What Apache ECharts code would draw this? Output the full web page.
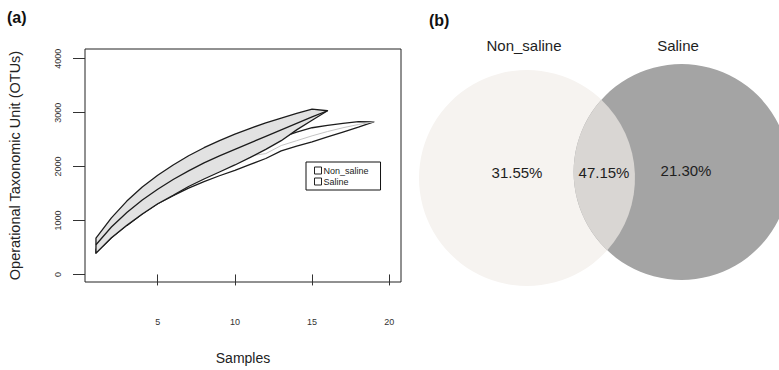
<!DOCTYPE html>
<html><head><meta charset="utf-8">
<script src="https://cdn.jsdelivr.net/npm/echarts@6/dist/echarts.min.js"></script>
<style>html,body{margin:0;padding:0;background:#fff}#c{width:779px;height:370px}</style>
</head><body><div id="c"></div>
<script>
// ---- Panel (a): rarefaction curves ----
const samplesNonSaline = [1,2,3,4,5,6,7,8,9,10,11,12,13,14,15,16];
const nonSalineUpper = [675,1050,1360,1620,1840,2030,2200,2350,2480,2600,2710,2810,2900,2985,3065,3035];
const nonSalineMean  = [550,880,1150,1380,1580,1760,1920,2070,2200,2320,2440,2560,2680,2800,2920,3035];
const nonSalineLower = [395,680,910,1120,1310,1465,1630,1770,1900,2030,2170,2320,2480,2680,2860,3035];

const samplesSaline = [1,2,3,4,5,6,7,8,9,10,11,12,13,14,15,16,17,18,19];
const salineUpper = [470,760,1000,1210,1400,1560,1720,1860,1990,2110,2240,2390,2540,2640,2720,2765,2800,2835,2830];
const salineMean  = [470,800,1060,1280,1470,1630,1780,1910,2030,2130,2200,2240,2390,2480,2570,2650,2720,2780,2830];
const salineLower = [395,680,910,1120,1310,1460,1600,1720,1830,1930,2040,2150,2290,2380,2460,2550,2640,2730,2830];

const xTicks = [5,10,15,20];
const yTicks = [0,1000,2000,3000,4000];

// ---- Panel (b): Venn diagram ----
const vennSetNames = ['Non_saline','Saline'];
const vennShares = ['31.55%','47.15%','21.30%']; // only Non_saline, shared, only Saline

const FONT = '"Liberation Sans", Arial, Helvetica, sans-serif';
const chart = echarts.init(document.getElementById('c'), null, {renderer:'svg'});

function bandRender(xs, up, mean, lo, fill, meanColor){
  return function(params, api){
    const pts = [];
    for (let i=0;i<xs.length;i++) pts.push(api.coord([xs[i], up[i]]));
    for (let i=xs.length-1;i>=0;i--) pts.push(api.coord([xs[i], lo[i]]));
    const mp = xs.map((x,i)=>api.coord([x, mean[i]]));
    return {type:'group', children:[
      {type:'polygon', shape:{points:pts}, style:{fill:fill, stroke:'#1c1c1c', lineWidth:1.3, lineJoin:'round'}},
      {type:'polyline', shape:{points:mp}, style:{fill:null, stroke:meanColor, lineWidth:meanColor==='#1c1c1c'?1.3:1}}
    ]};
  };
}

function vennRender(params, api){
  const c1 = [527, 178], c2 = [681.6, 172], r = 108;
  const dx = c2[0]-c1[0], dy = c2[1]-c1[1];
  const d = Math.sqrt(dx*dx+dy*dy);
  const a = d/2, h = Math.sqrt(r*r - a*a);
  const mx = c1[0]+dx/2, my = c1[1]+dy/2;
  const px = -dy/d, py = dx/d;
  const p1 = [mx + h*px, my + h*py];
  const p2 = [mx - h*px, my - h*py];
  const top = p1[1] < p2[1] ? p1 : p2, bot = p1[1] < p2[1] ? p2 : p1;
  const lens = 'M'+top[0]+' '+top[1]+' A'+r+' '+r+' 0 0 0 '+bot[0]+' '+bot[1]+' A'+r+' '+r+' 0 0 0 '+top[0]+' '+top[1]+' Z';
  const txt = (x,y,s)=>({type:'text', x:x, y:y, style:{text:s, fontSize:15, fontFamily:FONT, fill:'#1e1e1e', textAlign:'center', textVerticalAlign:'middle'}});
  return {type:'group', children:[
    {type:'circle', shape:{cx:c1[0], cy:c1[1], r:r}, style:{fill:'#f6f3f0'}},
    {type:'circle', shape:{cx:c2[0], cy:c2[1], r:r}, style:{fill:'#a4a4a4'}},
    {type:'path', shape:{pathData:lens}, style:{fill:'#d9d6d3'}},
    txt(517,172,vennShares[0]), txt(604,172,vennShares[1]), txt(686,170,vennShares[2]),
    txt(524,45,vennSetNames[0]), txt(678,45,vennSetNames[1])
  ]};
}

const option = {
  backgroundColor:'#fff',
  animation:false,
  textStyle:{fontFamily:FONT},
  grid:{left:85, top:49, width:316, height:235, show:true, borderColor:'#222', borderWidth:1, backgroundColor:'transparent', containLabel:false},
  xAxis:{type:'value', min:0.29, max:20.76, splitLine:{show:false}, axisLine:{show:false},
    axisTick:{show:true, length:11, lineStyle:{color:'#333', width:1}, customValues:xTicks},
    axisLabel:{customValues:xTicks, margin:35, fontSize:9, color:'#333', fontFamily:FONT, formatter:v=>String(v)},
    name:'Samples', nameLocation:'middle', nameGap:69, nameTextStyle:{fontSize:14, color:'#222', fontFamily:FONT}},
  yAxis:{type:'value', min:-140, max:4180, splitLine:{show:false}, axisLine:{show:false},
    axisTick:{show:true, length:12, lineStyle:{color:'#333', width:1}, customValues:yTicks},
    axisLabel:{customValues:yTicks, rotate:90, margin:23, fontSize:9, color:'#333', fontFamily:FONT, formatter:v=>String(v)},
    name:'Operational Taxonomic Unit (OTUs)', nameLocation:'middle', nameGap:63, nameTextStyle:{fontSize:14.5, color:'#222', fontFamily:FONT}},
  legend:{orient:'vertical', left:306, top:162, width:60, data:['Non_saline','Saline'], icon:'rect', itemWidth:7, itemHeight:7, itemGap:2,
    padding:[4,12,4,8], borderColor:'#111', borderWidth:1, backgroundColor:'#fff',
    itemStyle:{color:'#fff', borderColor:'#222', borderWidth:1},
    textStyle:{fontSize:9, color:'#222', fontFamily:FONT, padding:[0,0,0,-3]}, selectedMode:false},
  graphic:[
    {type:'text', left:7, top:9, style:{text:'(a)', fontSize:16, fontWeight:'bold', fontFamily:FONT, fill:'#111'}},
    {type:'text', left:429, top:12, style:{text:'(b)', fontSize:16, fontWeight:'bold', fontFamily:FONT, fill:'#111'}}
  ],
  series:[
    {type:'custom', name:'Saline', coordinateSystem:'cartesian2d', data:[[samplesSaline[0], salineLower[0]]],
      renderItem:bandRender(samplesSaline, salineUpper, salineMean, salineLower, '#ffffff', '#c4c4c4'), itemStyle:{color:'#fff'}, silent:true},
    {type:'custom', name:'Non_saline', coordinateSystem:'cartesian2d', data:[[samplesNonSaline[0], nonSalineLower[0]]],
      renderItem:bandRender(samplesNonSaline, nonSalineUpper, nonSalineMean, nonSalineLower, '#e2e2e2', '#1c1c1c'), itemStyle:{color:'#fff'}, silent:true},
    {type:'custom', name:'venn', coordinateSystem:'none', data:[[0]], renderItem:vennRender, silent:true}
  ]
};
chart.setOption(option);
</script></body></html>
